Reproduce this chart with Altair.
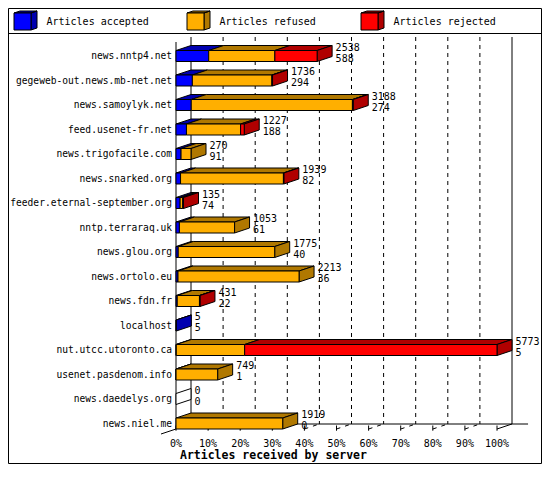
import altair as alt
import pandas as pd

# ---------------- data ----------------
servers = [
    "news.nntp4.net", "gegeweb-out.news.mb-net.net", "news.samoylyk.net",
    "feed.usenet-fr.net", "news.trigofacile.com", "news.snarked.org",
    "feeder.eternal-september.org", "nntp.terraraq.uk", "news.glou.org",
    "news.ortolo.eu", "news.fdn.fr", "localhost", "nut.utcc.utoronto.ca",
    "usenet.pasdenom.info", "news.daedelys.org", "news.niel.me",
]
totals = [2538, 1736, 3188, 1227, 270, 1939, 135, 1053, 1775, 2213, 431, 5, 5773, 749, 0, 1919]
accepted = [588, 294, 274, 188, 91, 82, 74, 61, 40, 36, 22, 5, 5, 1, 0, 0]
refused = [1190, 1430, 2899, 974, 179, 1850, 47, 992, 1735, 2177, 400, 0, 1230, 748, 0, 1919]
rejected = [760, 12, 15, 65, 0, 7, 14, 0, 0, 0, 9, 0, 4538, 0, 0, 0]

series = ["Articles accepted", "Articles refused", "Articles rejected"]
keys = ["acc", "ref", "rej"]
front_colors = ["#0000ff", "#ffaf00", "#ff0000"]
dark_colors = ["#0000b0", "#b07800", "#b00000"]
tick_values = [0, 10, 20, 30, 40, 50, 60, 70, 80, 90, 100]
x_title = "Articles received by server"

# ---------------- geometry / style ----------------
MONO = "DejaVu Sans Mono"
W100 = 321.0          # px for 100 %
ROW = 24.5            # px per row
DX = 15.0 / W100 * 100  # 3D depth in percent units
DY = 5.0 / ROW          # 3D depth in row units
BH = 11.0 / ROW         # bar front height in row units
NROWS = len(servers)
MAXV = max(totals)
VIEW_W = W100 * (100 + DX) / 100
VIEW_H = ROW * NROWS
PAD = {"left": 168, "top": 29, "right": 534 - 168 - VIEW_W, "bottom": 456 - 29 - VIEW_H}

xs = alt.Scale(domain=[0, 100 + DX], nice=False, zero=False)
ys = alt.Scale(domain=[0, NROWS], reverse=True, nice=False, zero=False)
fill_scale = alt.Scale(
    domain=keys + [k + "_d" for k in keys] + ["none"],
    range=front_colors + dark_colors + ["#ffffff"],
)

# ---------------- build faces from the data ----------------
front, top, side, lab = [], [], [], []
for i, name in enumerate(servers):
    vals = [accepted[i], refused[i], rejected[i]]
    y_bot = i + 1
    y_top = i + 1 - BH
    start = 0.0
    last = None
    for k, v in enumerate(vals):
        if v <= 0:
            continue
        end = start + v / MAXV * 100
        front.append(dict(x=start, x2=end, y=y_top, y2=y_bot, key=keys[k]))
        fid = f"{i}-{k}"
        top.append(dict(fid=fid, y=y_top, x=start, x2=end, key=keys[k] + "_d"))
        top.append(dict(fid=fid, y=y_top - DY, x=start + DX, x2=end + DX, key=keys[k] + "_d"))
        start = end
        last = k
    skey = keys[last] + "_d" if last is not None else "none"
    tot = totals[i] / MAXV * 100
    side.append(dict(fid=str(i), x=tot, y=y_top, y2=y_bot, key=skey))
    side.append(dict(fid=str(i), x=tot + DX, y=y_top - DY, y2=y_bot - DY, key=skey))
    lab.append(dict(name=name, total=str(totals[i]), acc=str(accepted[i]),
                    x0=0.0, xl=tot + DX, yl1=y_top, yl2=y_bot, ym=(y_top + y_bot) / 2))

front_df = pd.DataFrame(front)
top_df = pd.DataFrame(top)
side_df = pd.DataFrame(side)
lab_df = pd.DataFrame(lab)

# walls / floor lines
floor = NROWS
solid, dashed, fdiag = [], [], []
solid.append(dict(x=DX, x2=DX, y=0, y2=floor - DY))                      # back-left wall
solid.append(dict(x=100 + DX, x2=100 + DX, y=0, y2=floor - DY))          # back-right wall
solid.append(dict(x=DX, x2=100 + DX + 5, y=floor - DY, y2=floor - DY))   # back floor
solid.append(dict(x=0, x2=0, y=DY, y2=floor))                             # front-left edge
solid.append(dict(x=0, x2=-DX, y=floor, y2=floor + DY))                   # left diagonal
solid.append(dict(x=100, x2=100 + DX, y=floor, y2=floor - DY))            # right diagonal
for p in tick_values:
    solid.append(dict(x=p, x2=p, y=floor - DY * 0.7, y2=floor + 0.07))    # ticks
    if 0 < p < 100:
        dashed.append(dict(x=p + DX, x2=p + DX, y=0, y2=floor - DY))
        fdiag.append(dict(x=p, x2=p + DX, y=floor, y2=floor - DY))
solid_df = pd.DataFrame(solid)
dashed_df = pd.DataFrame(dashed)
fdiag_df = pd.DataFrame(fdiag)
tick_df = pd.DataFrame({"p": tick_values, "lbl": [f"{p}%" for p in tick_values], "yy": [floor] * len(tick_values)})


def rule_enc(c):
    return c.encode(
        x=alt.X("x:Q", scale=xs, axis=None),
        x2="x2:Q",
        y=alt.Y("y:Q", scale=ys, axis=None),
        y2="y2:Q",
    )


layers = []

# frame and legend separator
one = pd.DataFrame({"a": [0]})
layers.append(alt.Chart(one).mark_rect(fill="transparent", stroke="black", strokeWidth=1).encode(
    x=alt.value(-PAD["left"] + 0.5), x2=alt.value(VIEW_W + PAD["right"] - 0.5),
    y=alt.value(-PAD["top"] + 0.5), y2=alt.value(VIEW_H + PAD["bottom"] - 0.5)))
layers.append(alt.Chart(one).mark_rule(color="black", strokeWidth=1).encode(
    x=alt.value(-PAD["left"]), x2=alt.value(VIEW_W + PAD["right"]),
    y=alt.value(-3.5)))

# legend (3D cubes)
S = 8.5
FRONT_PATH = f"M{-S},{-S}L{S},{-S}L{S},{S}L{-S},{S}Z"
BACK_PATH = (f"M{-S},{-S}L{-S+6},{-S-2}L{S+6},{-S-2}L{S},{-S}Z"
             f"M{S},{-S}L{S+6},{-S-2}L{S+6},{S-2}L{S},{S}Z")
LEG_X = [-162, 11, 185]
for j, s in enumerate(series):
    cx = LEG_X[j] + S
    cy = -15.5
    ldf = pd.DataFrame({"series": [s]})
    layers.append(alt.Chart(ldf).mark_point(
        shape=BACK_PATH, size=4, filled=True, fill=dark_colors[j], stroke="black",
        strokeWidth=1, opacity=1).encode(x=alt.value(cx), y=alt.value(cy)))
    layers.append(alt.Chart(ldf).mark_point(
        shape=FRONT_PATH, size=4, filled=True, fill=front_colors[j], stroke="black",
        strokeWidth=1, opacity=1).encode(x=alt.value(cx), y=alt.value(cy)))
    layers.append(alt.Chart(ldf).mark_text(
        align="left", baseline="middle", font=MONO, fontSize=10, color="black").encode(
        x=alt.value(LEG_X[j] + 32.5), y=alt.value(cy + 0.5), text="series:N"))

# walls / grid
layers.append(rule_enc(alt.Chart(dashed_df).mark_rule(color="black", strokeWidth=1, strokeDash=[4, 4])))
layers.append(rule_enc(alt.Chart(fdiag_df).mark_rule(color="black", strokeWidth=1, strokeDash=[4, 5])))
layers.append(rule_enc(alt.Chart(solid_df).mark_rule(color="black", strokeWidth=1)))

# axis tick labels and title
layers.append(alt.Chart(tick_df).mark_text(
    align="center", baseline="top", dy=10, font=MONO, fontSize=10, color="black").encode(
    x=alt.X("p:Q", scale=xs, axis=None),
    y=alt.Y("yy:Q", scale=ys, axis=None),
    text="lbl:N"))
layers.append(alt.Chart(pd.DataFrame({"t": [x_title]})).mark_text(
    align="left", baseline="alphabetic", font=MONO, fontSize=11.5, fontWeight="bold",
    color="black").encode(x=alt.value(4), y=alt.value(VIEW_H + 30), text="t:N"))

# bars: top faces, side faces, front faces
layers.append(alt.Chart(top_df).mark_area(orient="horizontal", stroke="black", strokeWidth=1, opacity=1).encode(
    y=alt.Y("y:Q", scale=ys, axis=None),
    x=alt.X("x:Q", scale=xs, axis=None, stack=None),
    x2="x2:Q",
    fill=alt.Fill("key:N", scale=fill_scale, legend=None),
    detail="fid:N",
))
layers.append(alt.Chart(side_df).mark_area(orient="vertical", stroke="black", strokeWidth=1, opacity=1).encode(
    x=alt.X("x:Q", scale=xs, axis=None),
    y=alt.Y("y:Q", scale=ys, axis=None, stack=None),
    y2="y2:Q",
    fill=alt.Fill("key:N", scale=fill_scale, legend=None),
    detail="fid:N",
))
layers.append(alt.Chart(front_df).mark_rect(stroke="black", strokeWidth=1).encode(
    x=alt.X("x:Q", scale=xs, axis=None),
    x2="x2:Q",
    y=alt.Y("y:Q", scale=ys, axis=None),
    y2="y2:Q",
    fill=alt.Fill("key:N", scale=fill_scale, legend=None),
))

# texts
layers.append(alt.Chart(lab_df).mark_text(
    align="right", baseline="middle", dx=-4, font=MONO, fontSize=9.6, color="black").encode(
    x=alt.X("x0:Q", scale=xs, axis=None),
    y=alt.Y("ym:Q", scale=ys, axis=None),
    text="name:N"))
layers.append(alt.Chart(lab_df).mark_text(
    align="left", baseline="alphabetic", dx=3.5, font=MONO, fontSize=10, color="black").encode(
    x=alt.X("xl:Q", scale=xs, axis=None),
    y=alt.Y("yl1:Q", scale=ys, axis=None),
    text="total:N"))
layers.append(alt.Chart(lab_df).mark_text(
    align="left", baseline="alphabetic", dx=3.5, font=MONO, fontSize=10, color="black").encode(
    x=alt.X("xl:Q", scale=xs, axis=None),
    y=alt.Y("yl2:Q", scale=ys, axis=None),
    text="acc:N"))

chart = alt.layer(*layers).properties(
    width=VIEW_W, height=VIEW_H, autosize=alt.AutoSizeParams(type="none"), padding=PAD,
    background="white",
).configure_view(strokeWidth=0)

chart.save("out.html", embed_options={"renderer": "svg", "actions": False})
